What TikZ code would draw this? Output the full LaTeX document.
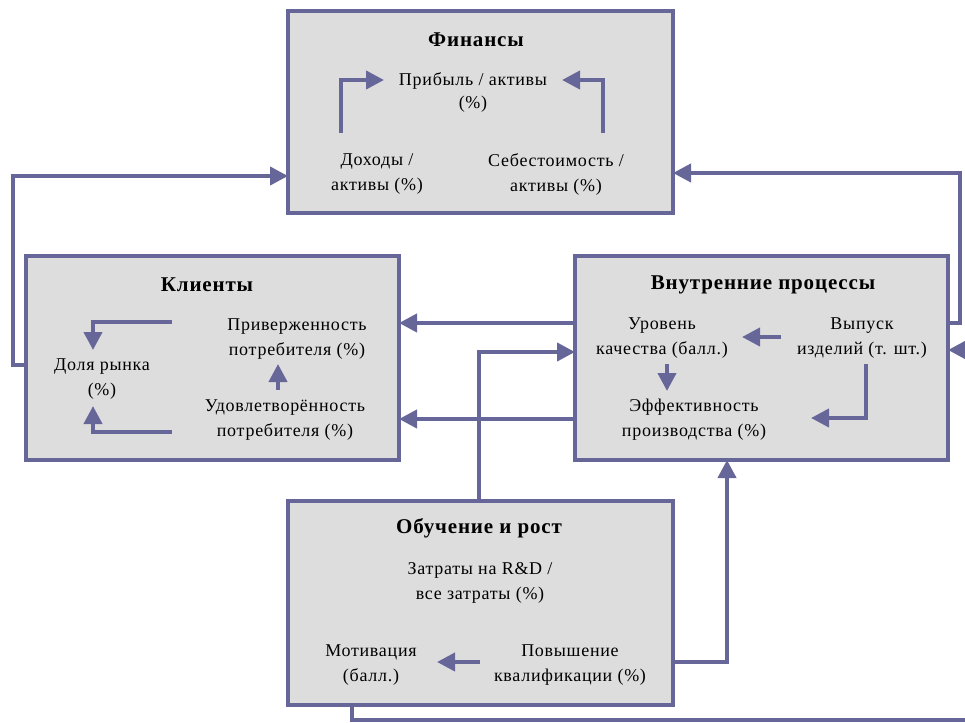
\documentclass[tikz,border=0pt]{standalone}
\usepackage{fontspec}
\setmainfont{Liberation Serif}[LetterSpace=4]
\usetikzlibrary{arrows.meta}
\definecolor{lc}{RGB}{102,102,153}
\definecolor{bg}{RGB}{221,221,221}
\tikzset{
  box/.style={draw=lc, fill=bg, line width=3.2pt, outer sep=0pt, inner sep=0pt},
  conn/.style={draw=lc, line width=4pt, -{Triangle[length=18pt,width=18pt]}},
  txt/.style={font=\fontsize{18}{25}\selectfont, align=center, inner sep=0pt},
  ttl/.style={font=\fontsize{21}{25}\selectfont\bfseries, align=center, inner sep=0pt}
}
\begin{document}
\begin{tikzpicture}[x=1pt,y=-1pt]
\useasboundingbox (0,0) rectangle (965,722);
\clip (0,0) rectangle (965,722);
% boxes
\node[box, minimum width=385pt, minimum height=202pt] (fin) at (480.5,112) {};
\node[box, minimum width=373pt, minimum height=204pt] (kli) at (212.5,358) {};
\node[box, minimum width=373pt, minimum height=204pt] (vnu) at (761.5,358) {};
\node[box, minimum width=385pt, minimum height=204pt] (obu) at (480.5,603) {};
% titles
\node[ttl] (finT) at (476,40) {Финансы};
\node[ttl] (kliT) at (207,285) {Клиенты};
\node[ttl] (vnuT) at (763,285) {Внутренние процессы};
\node[ttl] (obuT) at (479,528) {Обучение и рост};
% texts
\node[txt, font=\fontsize{18}{23}\selectfont] (profit) at (473,92.5) {Прибыль / активы\\(\%)};
\node[txt] (income) at (377,174) {Доходы /\\активы (\%)};
\node[txt] (cost) at (556,174) {Себестоимость /\\активы (\%)};
\node[txt] (loyal) at (297,339) {Приверженность\\потребителя (\%)};
\node[txt] (share) at (102,379) {Доля рынка\\(\%)};
\node[txt] (satisf) at (285,420) {Удовлетворённость\\потребителя (\%)};
\node[txt] (quality) at (662,338.5) {Уровень\\качества (балл.)};
\node[txt] (output) at (862,338.5) {Выпуск\\изделий (т. шт.)};
\node[txt] (eff) at (694,420) {Эффективность\\производства (\%)};
\node[txt] (rd) at (480,582.5) {Затраты на R\&D /\\все затраты (\%)};
\node[txt] (motiv) at (371,665.5) {Мотивация\\(балл.)};
\node[txt] (qual) at (570,665.5) {Повышение\\квалификации (\%)};
% inner arrow end points
\coordinate (incomeUp) at (341,133);
\coordinate (profitL) at (384,80);
\coordinate (costUp) at (603,133);
\coordinate (profitR) at (562,80);
\coordinate (loyalL) at (172,322);
\coordinate (shareT) at (93,350);
\coordinate (satisfL) at (172,432);
\coordinate (shareB) at (93,406);
\coordinate (satisfT) at (278,390);
\coordinate (loyalB) at (278,364);
\coordinate (outputL) at (781,337);
\coordinate (qualityR) at (742,337);
\coordinate (qualityB) at (667,364);
\coordinate (effT) at (667,391);
\coordinate (outputB) at (866,364);
\coordinate (effR) at (811,418);
\coordinate (qualL) at (480,662);
\coordinate (motivR) at (437,662);
% inner arrows
\draw[conn] (incomeUp) |- (profitL);
\draw[conn] (costUp) |- (profitR);
\draw[conn] (loyalL) -| (shareT);
\draw[conn] (satisfL) -| (shareB);
\draw[conn] (satisfT) -- (loyalB);
\draw[conn] (outputL) -- (qualityR);
\draw[conn] (qualityB) -- (effT);
\draw[conn] (outputB) |- (effR);
\draw[conn] (qualL) -- (motivR);
% box-to-box connectors
\draw[conn] (kli.west |- 0,365) -- (12.5,365) |- (fin.west |- 0,176);
\draw[conn] (vnu.east |- 0,323) -- (960,323) |- (fin.east |- 0,173);
\draw[conn] (vnu.west |- 0,323) -- (kli.east |- 0,323);
\draw[conn] (vnu.west |- 0,419) -- (kli.east |- 0,419);
\draw[conn] (obu.north -| 479,0) |- (vnu.west |- 0,352);
\draw[conn] (obu.east |- 0,662) -| (vnu.south -| 727,0);
\draw[conn] (obu.south -| 352,0) |- (975,720) |- (vnu.east |- 0,350);
\end{tikzpicture}
\end{document}
